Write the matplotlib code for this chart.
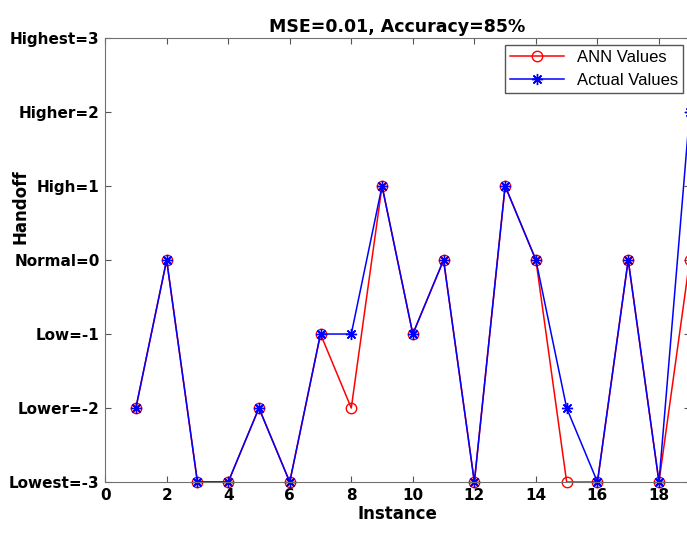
import matplotlib
matplotlib.use("Agg")
import matplotlib.pyplot as plt

# handoff levels per instance
instances = list(range(1, 20))
ann_values = [-2, 0, -3, -3, -2, -3, -1, -2, 1, -1, 0, -3, 1, 0, -3, -3, 0, -3, 0]
actual_values = [-2, 0, -3, -3, -2, -3, -1, -1, 1, -1, 0, -3, 1, 0, -2, -3, 0, -3, 2]
level_ticks = [-3, -2, -1, 0, 1, 2, 3]
level_labels = ["Lowest=-3", "Lower=-2", "Low=-1", "Normal=0", "High=1", "Higher=2", "Highest=3"]

plt.rcParams['font.family'] = ['DejaVu Sans']

fig = plt.figure(figsize=(6.87, 5.35), dpi=100)
ax = fig.add_axes([0.153, 0.099, 0.851, 0.830])

ax.plot(instances, ann_values, color='red', marker='o', markersize=7.5,
        markerfacecolor='none', linewidth=1.1, label='ANN Values', clip_on=False)
ax.plot(instances, actual_values, color='blue', marker=(8, 2, 0), markersize=8,
        markeredgewidth=1, linewidth=1.1, label='Actual Values', clip_on=False)

ax.set_xlim(0, 19)
ax.set_ylim(-3, 3)
ax.set_xticks(range(0, 19, 2))
ax.set_yticks(level_ticks)
ax.set_yticklabels(level_labels)
ax.tick_params(direction='in', top=True, right=True, length=4, color='#555555',
               labelsize=11, pad=4)
for lbl in ax.get_xticklabels() + ax.get_yticklabels():
    lbl.set_fontweight('bold')
for sp in ax.spines.values():
    sp.set_color('#707070')

ax.set_title("MSE=0.01, Accuracy=85%", fontsize=12.5, fontweight='bold', pad=4)
ax.set_xlabel("Instance", fontsize=12, fontweight='bold', labelpad=2)
ax.set_ylabel("Handoff", fontsize=12, fontweight='bold')
ax.yaxis.set_label_coords(-0.13, 0.62)

leg = ax.legend(loc='upper right', frameon=True, fancybox=False,
                borderaxespad=0.4, handlelength=3.2, borderpad=0.3,
                prop={'family': 'Liberation Sans', 'size': 12})
leg.get_frame().set_edgecolor('#555555')
leg.get_frame().set_linewidth(1)
leg.get_frame().set_alpha(1)

fig.savefig("out.png", dpi=100)
